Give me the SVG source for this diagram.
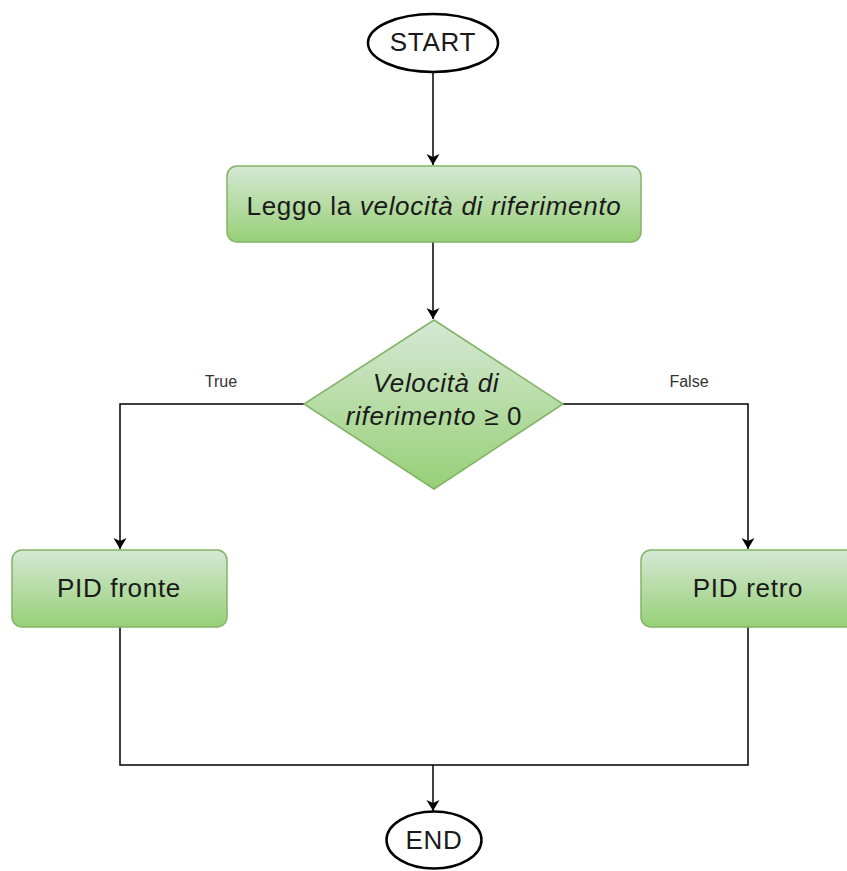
<svg xmlns="http://www.w3.org/2000/svg" width="847" height="871" viewBox="0 0 847 871">
  <style>
    .term { fill: #ffffff; stroke: #000000; stroke-width: 2.5; }
    .proc { fill: url(#greenGrad); stroke: #82b366; stroke-width: 1.5; }
    .txt { font-family: "Liberation Sans", Arial, sans-serif; font-size: 26px; letter-spacing: 0.7px; fill: #1a1a1a; text-anchor: middle; }
    .lbl { font-family: "Liberation Sans", Arial, sans-serif; font-size: 16px; fill: #333333; text-anchor: middle; }
    .edge { fill: none; stroke: #000000; stroke-width: 1.5; }
  </style>
  <defs>
    <linearGradient id="greenGrad" x1="0" y1="0" x2="0" y2="1">
      <stop offset="0" stop-color="#d5e8d4"/>
      <stop offset="1" stop-color="#97d077"/>
    </linearGradient>
    <marker id="arrow" markerWidth="12" markerHeight="14" refX="11" refY="6.5" orient="auto" markerUnits="userSpaceOnUse" viewBox="0 0 12 13">
      <path d="M0,0 L11,6.5 L0,13 L3,6.5 Z" fill="#000000"/>
    </marker>
  </defs>

  <g id="connectors">
    <path class="edge" d="M433,72 L433,165" marker-end="url(#arrow)"/>
    <path class="edge" d="M433,242 L433,319" marker-end="url(#arrow)"/>
    <path class="edge" d="M304,404 L120,404 L120,549" marker-end="url(#arrow)"/>
    <path class="edge" d="M563,404 L748,404 L748,549" marker-end="url(#arrow)"/>
    <path class="edge" d="M120,627 L120,765 L748,765 L748,627"/>
    <path class="edge" d="M433,765 L433,811" marker-end="url(#arrow)"/>
    <text class="lbl" x="221" y="387">True</text>
    <text class="lbl" x="689" y="387">False</text>
  </g>

  <g id="start">
    <ellipse class="term" cx="433" cy="43" rx="65" ry="29"/>
    <text class="txt" x="433" y="51">START</text>
  </g>

  <g id="read-speed">
    <rect class="proc" x="227" y="166" width="414" height="76" rx="10"/>
    <text class="txt" x="434" y="215">Leggo la <tspan font-style="italic">velocità di riferimento</tspan></text>
  </g>

  <g id="decision">
    <polygon class="proc" points="434,320 563,404 434,489 304,404"/>
    <text class="txt" x="436" y="392"><tspan font-style="italic">Velocità di</tspan></text>
    <text class="txt" x="434" y="425"><tspan font-style="italic">riferimento</tspan> ≥ 0</text>
  </g>

  <g id="pid-front">
    <rect class="proc" x="12" y="550" width="215" height="77" rx="10"/>
    <text class="txt" x="119" y="597">PID fronte</text>
  </g>

  <g id="pid-back">
    <rect class="proc" x="641" y="550" width="215" height="77" rx="10"/>
    <text class="txt" x="748" y="597">PID retro</text>
  </g>

  <g id="end">
    <ellipse class="term" cx="434" cy="840" rx="47.5" ry="28.5"/>
    <text class="txt" x="434" y="849">END</text>
  </g>
</svg>
